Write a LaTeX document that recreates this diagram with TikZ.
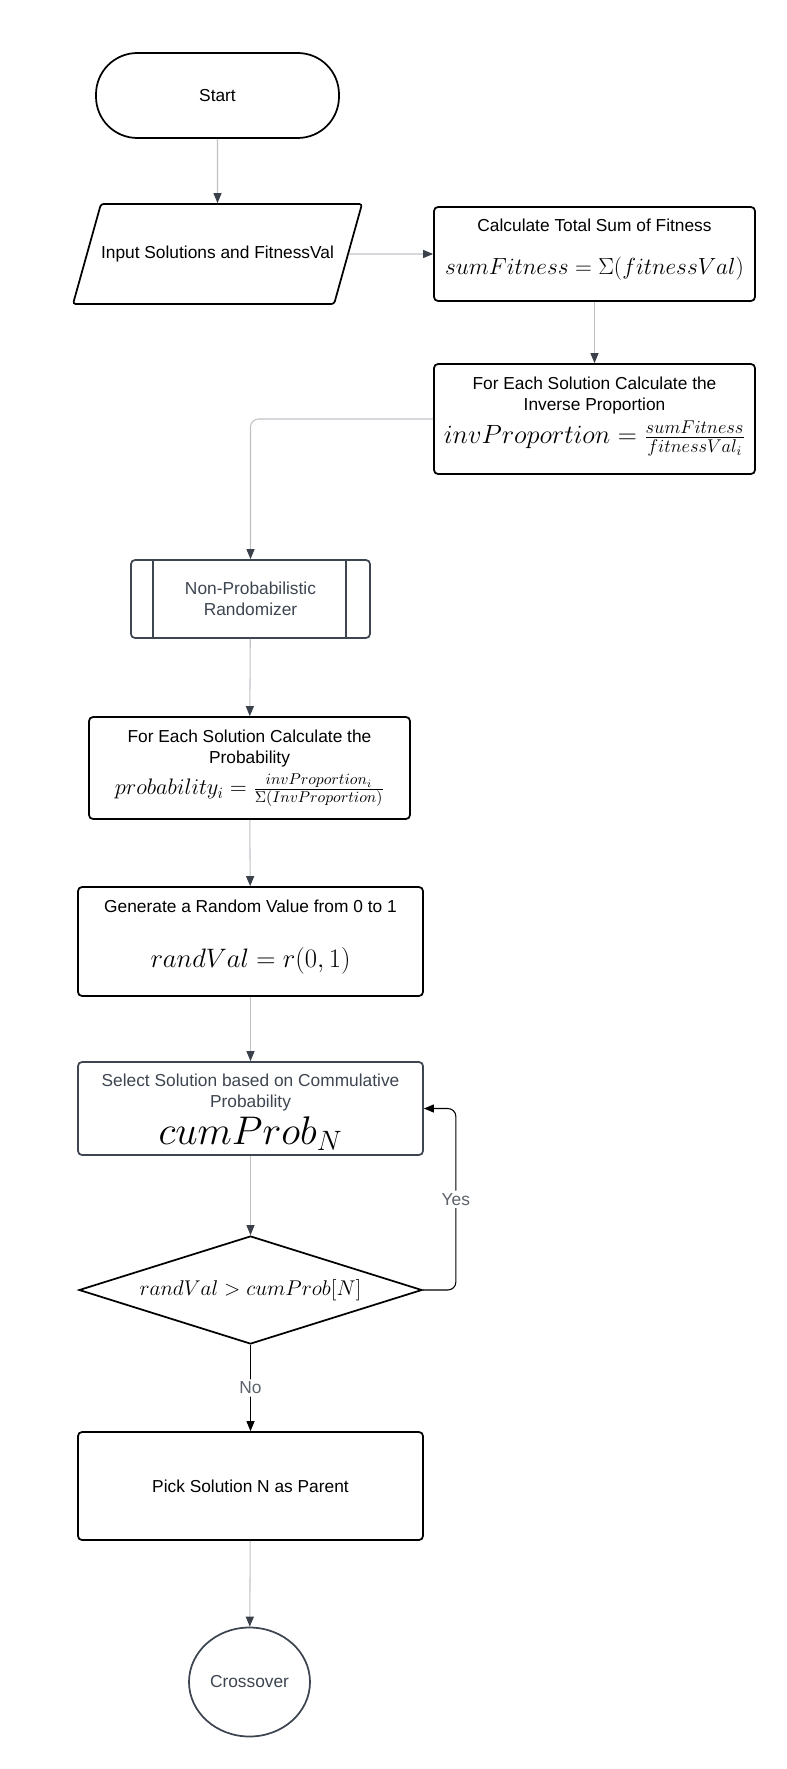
\RequirePackage{fix-cm}
\documentclass[tikz,border=0pt]{standalone}
\usepackage{amsmath}
\usepackage[no-math]{fontspec}
\setmainfont{Liberation Sans}
\usepackage{tikz}
\usetikzlibrary{shapes.geometric}
\usetikzlibrary{arrows.meta}
\definecolor{flowline}{RGB}{190,194,199}
\definecolor{flowhead}{RGB}{58,65,74}
\definecolor{slate}{RGB}{61,69,80}
\definecolor{labelgray}{RGB}{93,99,107}
\tikzset{my_flow/.style={x=0.75pt,y=-0.75pt,>={Triangle[length=7.5pt,width=6pt]},font=\fontsize{13}{15.75}\selectfont}}
\tikzset{my_box/.style={rectangle, draw=black, line width=1.3pt, rounded corners=3pt, align=center, inner sep=0pt}}
\tikzset{my_soft_box/.style={my_box, draw=slate, text=slate}}
\tikzset{my_sub_box/.style={my_soft_box, path picture={
    \draw[slate, line width=1.3pt] ([xshift=16.5pt]path picture bounding box.north west) -- ([xshift=16.5pt]path picture bounding box.south west);
    \draw[slate, line width=1.3pt] ([xshift=-18pt]path picture bounding box.north east) -- ([xshift=-18pt]path picture bounding box.south east);}}}
\tikzset{my_io/.style={trapezium, trapezium left angle=74.4, trapezium right angle=105.6, trapezium stretches body=true, draw=black, line width=1.3pt, rounded corners=2pt, inner xsep=0pt, inner ysep=31.4pt, text height=9.5pt, text depth=2.7pt}}
\tikzset{my_decision/.style={diamond, aspect=3.2, draw=black, line width=1.3pt, inner sep=0pt}}
\tikzset{my_arrow/.style={->, draw=flowline, line width=0.8pt, arrows={-{Triangle[length=7.5pt,width=6pt,color=flowhead]}}}}
\tikzset{my_answer/.style={->, draw=black, line width=0.8pt, rounded corners=6pt}}
\tikzset{my_answer_label/.style={fill=white, text=labelgray, inner sep=2pt}}

\begin{document}
\begin{tikzpicture}[my_flow]
    \useasboundingbox (0,0) rectangle (787,1769);
    %\draw[help lines, step=50] (0,0) grid (787,1769);
    \node[my_box, rounded corners=31pt, minimum width=182.25pt, minimum height=63.75pt] (start) at (217.5,95.5) {Start};
    \node[my_io, minimum width=216.75pt] (input) at (217.5,254) {Input Solutions and FitnessVal};
    \node[my_box, minimum width=240.75pt, minimum height=70.5pt] (sum) at (594.5,254)
        {Calculate Total Sum of Fitness\\[16pt]{\fontsize{17.5}{21}\selectfont$sumFitness = \Sigma(fitnessVal)$}\rule[-11pt]{0pt}{0pt}};
    \node[my_box, minimum width=240.75pt, minimum height=82.5pt] (inv) at (594.5,419)
        {For Each Solution Calculate the\\Inverse Proportion\\[4pt]{\fontsize{19.8}{22}\selectfont$invProportion = \frac{sumFitness}{fitnessVal_i}$}\rule[-13pt]{0pt}{0pt}};
    \node[my_sub_box, minimum width=179.25pt, minimum height=58.5pt] (randomizer) at (250.5,599) {Non-Probabilistic\\Randomizer};
    \node[my_box, minimum width=240.75pt, minimum height=76.5pt] (prob) at (249.5,768)
        {For Each Solution Calculate the\\Probability\\[4.5pt]{\fontsize{16.8}{20}\selectfont$probability_i = \frac{invProportion_i}{\Sigma(InvProportion)}$}\rule[-8pt]{0pt}{0pt}};
    \node[my_box, minimum width=258.75pt, minimum height=81.75pt] (rand) at (250.5,941.5)
        {Generate a Random Value from 0 to 1\\[26pt]{\fontsize{20}{24}\selectfont$randVal = r(0,1)$}\rule[-11.5pt]{0pt}{0pt}};
    \node[my_soft_box, minimum width=258.75pt, minimum height=69.75pt] (select) at (250.5,1108.5)
        {\rule{0pt}{15pt}Select Solution based on Commulative\\Probability\\[3pt]{\color{black}\fontsize{30}{30}\selectfont$cumProb_N$}};
    \node[my_decision, minimum width=257.25pt, minimum height=81pt] (check) at (250.5,1290)
        {\fontsize{16}{20}\selectfont$randVal > cumProb[N]$};
    \node[my_box, minimum width=258.75pt, minimum height=81pt] (parent) at (250.5,1486) {Pick Solution N as Parent};
    \node[ellipse, draw=slate, text=slate, line width=1.3pt, inner sep=0pt, minimum width=90.75pt, minimum height=81.75pt] (crossover) at (249.5,1682) {Crossover};

    \path
        (start) edge [my_arrow] (input)
        (input) edge [my_arrow] (sum)
        (sum) edge [my_arrow] (inv)
        (randomizer) edge [my_arrow] (prob)
        (prob) edge [my_arrow] (rand)
        (rand) edge [my_arrow] (select)
        (select) edge [my_arrow] (check)
        (parent) edge [my_arrow] (crossover)
    ;
    \draw[my_arrow, rounded corners=6pt] (inv.west) -| (randomizer.north);
    \draw[my_answer] (check.east) -- ++(33,0) |- node [my_answer_label, pos=0.25] {Yes} (select.east);
    \draw[my_answer] (check.south) -- node [my_answer_label] {No} (parent.north);
\end{tikzpicture}
\end{document}
